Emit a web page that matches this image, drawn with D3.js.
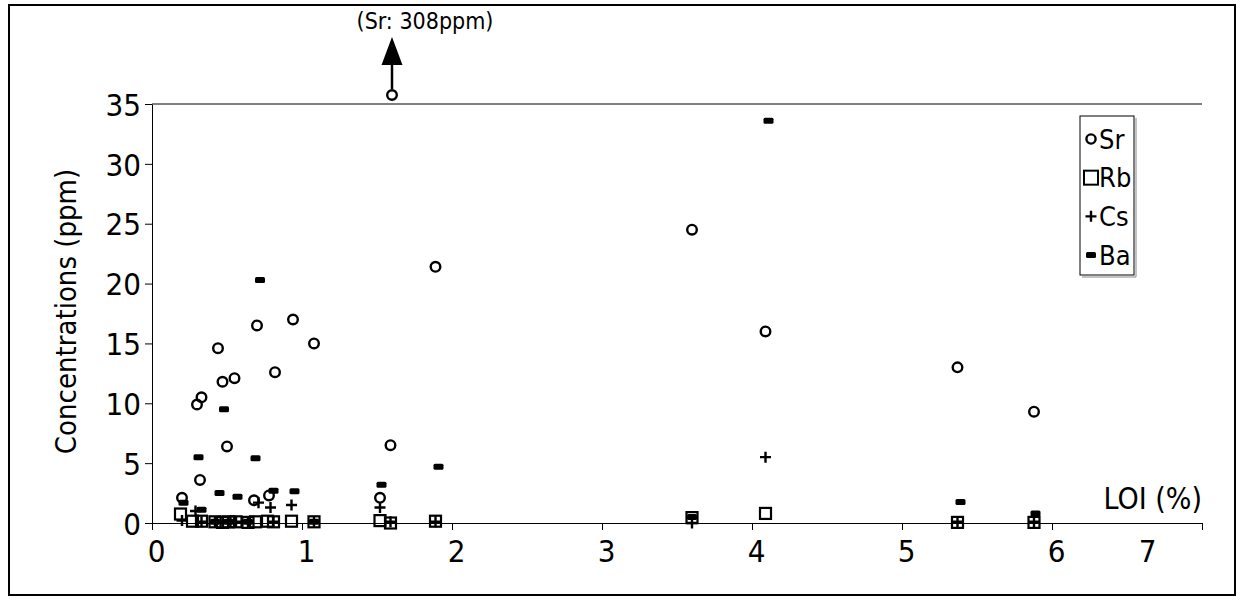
<!DOCTYPE html>
<html>
<head>
<meta charset="utf-8">
<script src="https://cdn.jsdelivr.net/npm/d3@7"></script>
<style>
  body { margin: 0; background: #fff; }
  text { font-family: "DejaVu Sans Condensed", "DejaVu Sans", Verdana, sans-serif; font-stretch: condensed; fill: #000; }
</style>
</head>
<body>
<div id="my_dataviz"></div>
<script>
// LOI (%) and concentration (ppm)
var srLoi = [0.20, 0.30, 0.32, 0.33, 0.44, 0.47, 0.50, 0.55, 0.68, 0.70, 0.78, 0.82, 0.94, 1.08, 1.52, 1.60, 1.59, 1.89, 3.60, 4.09, 5.37, 5.88];
var srVal = [2.1, 9.9, 3.6, 10.5, 14.6, 11.8, 6.4, 12.1, 1.9, 16.5, 2.3, 12.6, 17.0, 15.0, 2.1, 308, 6.5, 21.4, 24.5, 16.0, 13.0, 9.3];

var rbLoi = [0.19, 0.27, 0.33, 0.42, 0.47, 0.51, 0.56, 0.64, 0.69, 0.77, 0.81, 0.93, 1.08, 1.52, 1.59, 1.89, 3.60, 4.09, 5.37, 5.88];
var rbVal = [0.75, 0.15, 0.15, 0.1, 0.05, 0.1, 0.1, 0.05, 0.1, 0.15, 0.1, 0.15, 0.1, 0.2, 0.0, 0.15, 0.45, 0.8, 0.05, 0.05];

var csLoi = [0.20, 0.29, 0.33, 0.42, 0.47, 0.51, 0.56, 0.64, 0.71, 0.79, 0.81, 0.93, 1.08, 1.52, 1.59, 1.89, 3.60, 4.09, 5.37, 5.88];
var csVal = [0.2, 1.0, 0.1, 0.1, 0.1, 0.1, 0.1, 0.1, 1.7, 1.3, 0.1, 1.5, 0.1, 1.3, 0.1, 0.1, 0.0, 5.5, 0.1, 0.1];

var baLoi = [0.21, 0.31, 0.33, 0.45, 0.48, 0.57, 0.69, 0.72, 0.81, 0.95, 0.42, 0.51, 0.64, 1.08, 1.53, 1.91, 3.60, 4.11, 5.39, 5.89];
var baVal = [1.7, 5.5, 1.1, 2.5, 9.5, 2.2, 5.4, 20.3, 2.7, 2.65, 0.1, 0.1, 0.1, 0.1, 3.2, 4.7, 0.5, 33.6, 1.75, 0.8];

var xTicks = [0, 1, 2, 3, 4, 5, 6, 7];
var yTicks = [0, 5, 10, 15, 20, 25, 30, 35];
var legendNames = ["Sr", "Rb", "Cs", "Ba"];

var margin = {top: 104, right: 43, bottom: 89, left: 152},
    width = 1245 - margin.left - margin.right,
    height = 612 - margin.top - margin.bottom;

var root = d3.select("#my_dataviz")
  .append("svg")
    .attr("width", 1245)
    .attr("height", 612);

// outer frame
root.append("rect")
    .attr("x", 9).attr("y", 5)
    .attr("width", 1226).attr("height", 590)
    .style("fill", "none").style("stroke", "#000").style("stroke-width", 2);

var svg = root.append("g")
    .attr("transform", "translate(" + margin.left + "," + margin.top + ")");

var x = d3.scaleLinear().domain([0, 7]).range([0, width]);
var y = d3.scaleLinear().domain([0, 35]).range([height, 0]);

// plot area top border
svg.append("line")
    .attr("x1", 0).attr("x2", width)
    .attr("y1", 0).attr("y2", 0)
    .style("stroke", "#000").style("stroke-width", 1);

// X axis
var gx = svg.append("g")
    .attr("transform", "translate(0," + height + ")")
    .call(d3.axisBottom(x).tickValues(xTicks).tickSize(7).tickSizeOuter(0).tickFormat(d3.format("d")));
gx.select(".domain").style("stroke", "#000");
gx.selectAll("text").style("font-size", "31px").attr("y", 16).attr("dy", "0.75em").attr("dx", "4px");
// last label sits pulled in under the axis title, as in the original
gx.selectAll("text").filter(function(d) { return d === 7; }).attr("dx", "-55px");

// Y axis
var gy = svg.append("g")
    .call(d3.axisLeft(y).tickValues(yTicks).tickSize(7).tickSizeOuter(0));
gy.select(".domain").style("stroke", "#000");
gy.selectAll("text").style("font-size", "31px").attr("x", -11).attr("dy", "0.36em");

svg.append("text")
    .attr("transform", "rotate(-90)")
    .attr("x", -height / 2 + 2)
    .attr("y", -76)
    .style("text-anchor", "middle")
    .style("font-size", "29px")
    .text("Concentrations (ppm)");

svg.append("text")
    .attr("x", width)
    .attr("y", height - 14)
    .style("text-anchor", "end")
    .style("font-size", "30px")
    .text("LOI (%)");

function zip(a, b) { return a.map(function(d, i) { return {x: d, v: b[i]}; }); }

var srData = zip(srLoi, srVal),
    rbData = zip(rbLoi, rbVal),
    csData = zip(csLoi, csVal),
    baData = zip(baLoi, baVal);

// points above the axis top are parked just over the plot edge
function cy(d) { return d.v > 35 ? y(35) - 9 : y(d.v); }

// Ba
svg.selectAll("myba")
  .data(baData)
  .enter()
  .append("rect")
    .attr("x", function(d) { return x(d.x) - 5; })
    .attr("y", function(d) { return cy(d) - 3; })
    .attr("width", 10).attr("height", 6).attr("rx", 1.5)
    .style("fill", "#000");

// Rb
svg.selectAll("myrb")
  .data(rbData)
  .enter()
  .append("rect")
    .attr("x", function(d) { return x(d.x) - 5.5; })
    .attr("y", function(d) { return cy(d) - 5.5; })
    .attr("width", 11).attr("height", 11)
    .style("fill", "none").style("stroke", "#000").style("stroke-width", 2.2);

// Cs
svg.selectAll("mycs")
  .data(csData)
  .enter()
  .append("path")
    .attr("d", function(d) {
      var cx = x(d.x), c = cy(d);
      return "M" + (cx - 5.5) + "," + c + "H" + (cx + 5.5) + "M" + cx + "," + (c - 5.5) + "V" + (c + 5.5);
    })
    .style("stroke", "#000").style("stroke-width", 2.4);

// Sr
svg.selectAll("mysr")
  .data(srData)
  .enter()
  .append("circle")
    .attr("cx", function(d) { return x(d.x); })
    .attr("cy", cy)
    .attr("r", 4.8)
    .style("fill", "none").style("stroke", "#000").style("stroke-width", 2.4);

// off-scale Sr arrow
var off = srData.filter(function(d) { return d.v > 35; })[0];
var ax = x(off.x), ay = cy(off);
svg.append("line")
    .attr("x1", ax).attr("x2", ax)
    .attr("y1", ay - 6).attr("y2", ay - 32)
    .style("stroke", "#000").style("stroke-width", 2.5);
svg.append("path")
    .attr("d", "M" + (ax - 10.5) + "," + (ay - 30) + "L" + ax + "," + (ay - 58) + "L" + (ax + 10.5) + "," + (ay - 30) + "Z")
    .style("fill", "#000");
svg.append("text")
    .attr("x", ax + 33)
    .attr("y", ay - 66)
    .style("text-anchor", "middle")
    .style("font-size", "23px")
    .text("(Sr: " + off.v + "ppm)");

// Legend
var lg = root.append("g").attr("transform", "translate(1080,116)");
lg.append("rect").attr("x", 0).attr("y", 0).attr("width", 54).attr("height", 159)
    .style("fill", "#fff").style("stroke", "#000").style("stroke-width", 1);
lg.append("line").attr("x1", 2).attr("x2", 56).attr("y1", 161).attr("y2", 161)
    .style("stroke", "#888").style("stroke-width", 1);
lg.append("line").attr("x1", 56).attr("x2", 56).attr("y1", 2).attr("y2", 161)
    .style("stroke", "#888").style("stroke-width", 1);

var ly = d3.scalePoint().domain(legendNames).range([23, 139]);
lg.append("circle").attr("cx", 11).attr("cy", ly("Sr")).attr("r", 4.6)
    .style("fill", "none").style("stroke", "#000").style("stroke-width", 2.4);
lg.append("rect").attr("x", 4).attr("y", ly("Rb") - 7).attr("width", 14).attr("height", 14)
    .style("fill", "none").style("stroke", "#000").style("stroke-width", 2);
lg.append("path").attr("d", "M5.5," + ly("Cs") + "H16.5M11," + (ly("Cs") - 5.5) + "V" + (ly("Cs") + 5.5))
    .style("stroke", "#000").style("stroke-width", 2.4);
lg.append("rect").attr("x", 6).attr("y", ly("Ba") - 3).attr("width", 10).attr("height", 6).attr("rx", 1.5)
    .style("fill", "#000");

lg.selectAll("mylabels")
  .data(legendNames)
  .enter()
  .append("text")
    .attr("x", 19)
    .attr("y", function(d) { return ly(d); })
    .attr("dy", "0.36em")
    .style("font-size", "27px")
    .text(function(d) { return d; });
</script>
</body>
</html>
